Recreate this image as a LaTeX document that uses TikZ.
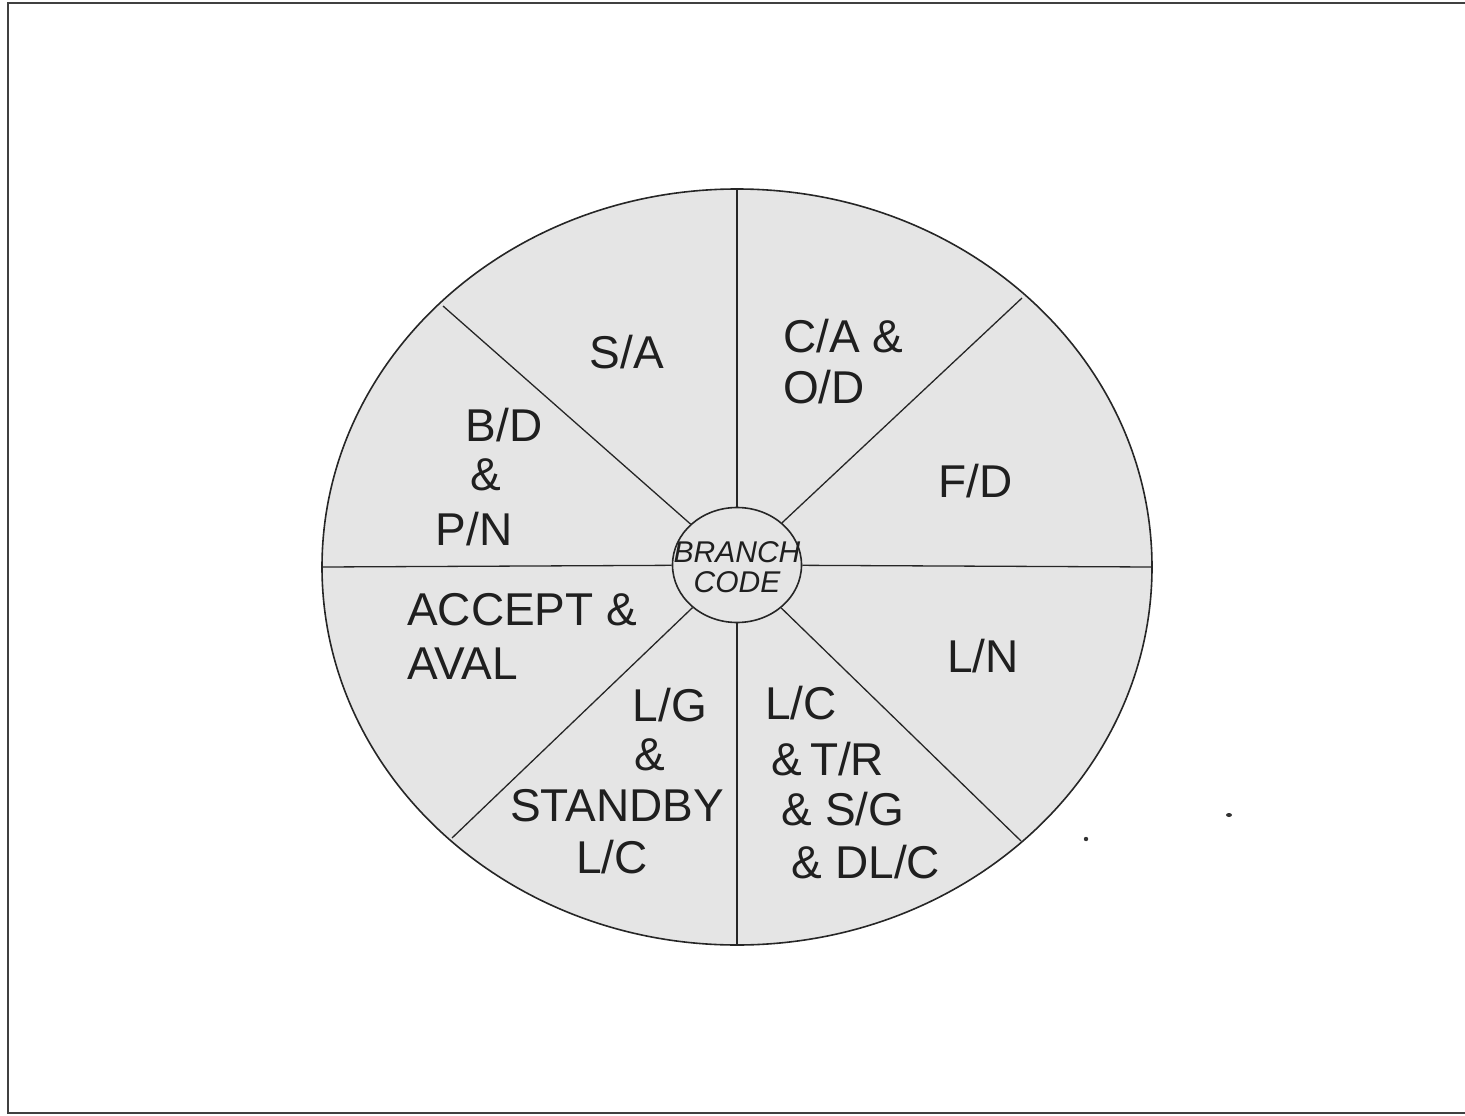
\documentclass[tikz,border=0pt]{standalone}
\usepackage{fontspec}
\setmainfont{Liberation Sans}
\usetikzlibrary{shapes.geometric}
\tikzset{
  pie/.style={draw=black!85, line width=1.6pt, fill=black!10},
  divider/.style={draw=black!85, line width=1.3pt},
  frameline/.style={draw=black!75, line width=2pt},
  lbl/.style={inner sep=0pt, font=\fontsize{46}{52}\selectfont, text=black!88},
  lblc/.style={lbl, anchor=base},
  lbll/.style={lbl, anchor=base west},
  hub/.style={ellipse, pie, minimum width=129pt, minimum height=115pt, inner sep=0pt},
  hubtext/.style={inner sep=0pt, anchor=base, font=\fontsize{30}{30}\selectfont\itshape, text=black!88},
  speck/.style={fill=black!80, draw=none}
}
\begin{document}
\begin{tikzpicture}[x=1pt,y=-1pt]
\useasboundingbox (0,0) rectangle (1465,1116);
% frame (right edge cut off in the scan)
\draw[frameline] (1465,3) -- (8,3) -- (8,1113) -- (1465,1113);
% outer disc
\coordinate (c) at (737,567);
\draw[pie] (c) ellipse [x radius=415, y radius=378];
% rim points
\coordinate (top) at (737,189);
\coordinate (bot) at (737,945);
\coordinate (lft) at (322,567);
\coordinate (rgt) at (1152,567);
\coordinate (ul) at (443,306);
\coordinate (ur) at (1022,298);
\coordinate (ll) at (452,838);
\coordinate (lr) at (1021,841);
% hub
\node[hub] (bc) at (737,565) {};
% dividers
\foreach \p in {top,bot,lft,rgt,ul,ur,ll,lr}
  \draw[divider] (bc) -- (\p);
\node[hubtext] (bct1) at (737,562) {BRANCH};
\node[hubtext] (bct2) at (737,592) {CODE};
% labels
\node[lblc] (sa) at (627,368) {S/A};
\node[lbll] (ca1) at (783,352) {C/A \&};
\node[lbll] (ca2) at (783,403) {O/D};
\node[lbll] (fd) at (938,497) {F/D};
\node[lblc] (bd1) at (504,441) {B/D};
\node[lblc] (bd2) at (486,490) {\&};
\node[lblc] (bd3) at (474,545) {P/N};
\node[lbll] (ac1) at (407,625) {ACCEPT \&};
\node[lbll] (ac2) at (407,679) {AVAL};
\node[lblc] (lg1) at (670,721) {L/G};
\node[lblc] (lg2) at (650,770) {\&};
\node[lblc] (lg3) at (617,821) {STANDBY};
\node[lblc] (lg4) at (612,873) {L/C};
\node[lblc] (lc1) at (801,719) {L/C};
\node[lblc] (lc2) at (828,775) {\&\,T/R};
\node[lblc] (lc3) at (843,825) {\& S/G};
\node[lblc] (lc4) at (866,878) {\& DL/C};
\node[lbll] (ln) at (947,672) {L/N};
% specks
\fill[speck] (1086,839) circle (2.2);
\fill[speck] (1229,815) ellipse [x radius=3, y radius=2];
\end{tikzpicture}
\end{document}
